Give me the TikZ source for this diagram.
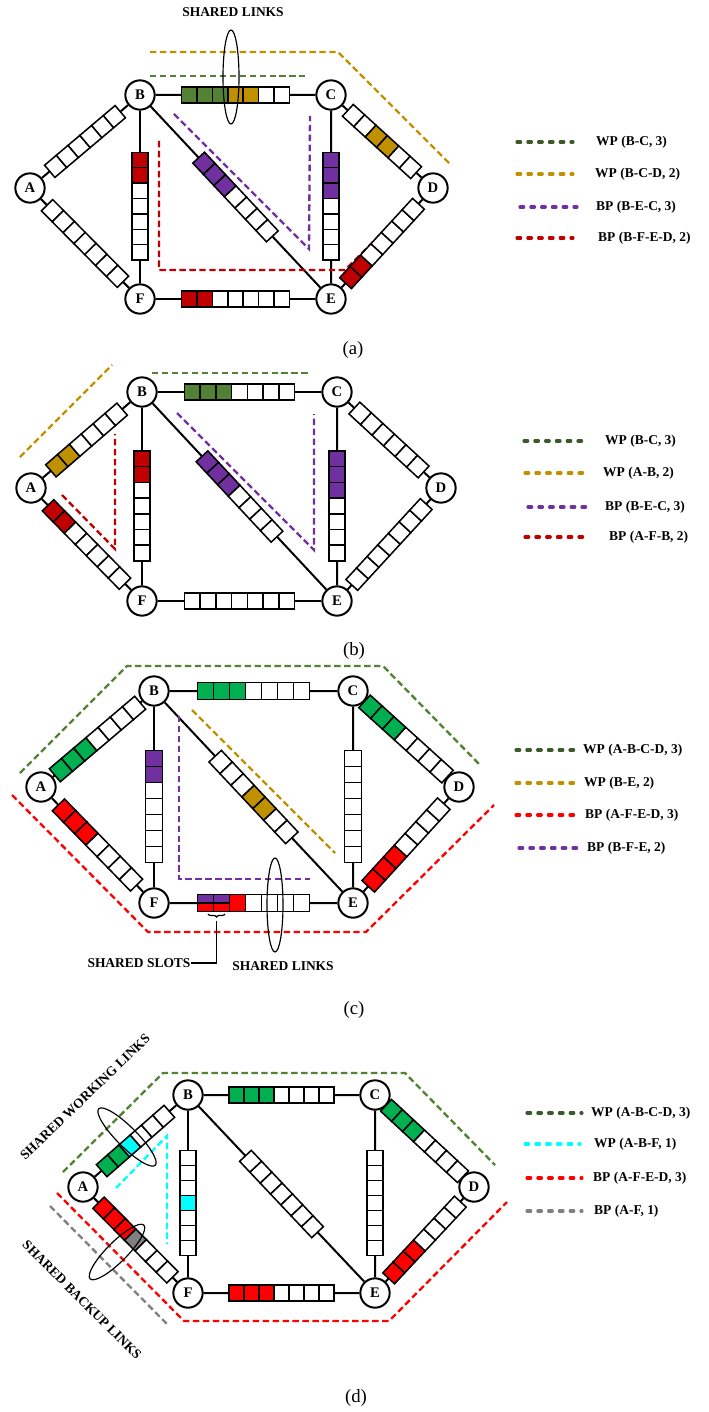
\documentclass[tikz,border=0pt]{standalone}
\usepackage{fontspec}
\setmainfont{Liberation Serif}
\usetikzlibrary{calc, decorations.pathreplacing}

\definecolor{olivegreen}{HTML}{548235}
\definecolor{legendgreen}{HTML}{3B5A2A}
\definecolor{slotgreen}{HTML}{00B050}
\definecolor{gold}{HTML}{BF9000}
\definecolor{purp}{HTML}{7030A0}
\definecolor{darkred}{HTML}{C00000}
\definecolor{brightred}{HTML}{FF0000}
\definecolor{aqua}{HTML}{00FFFF}
\definecolor{grey}{HTML}{808080}

\tikzset{
  nd/.style={circle, draw, line width=1.7pt, fill=white, minimum size=0.88cm, inner sep=0pt, font=\fontsize{12.5}{12}\selectfont\bfseries},
  link/.style={line width=1.7pt},
  slot/.style={draw, line width=1.3pt},
  pathdash/.style={line width=2pt, dash pattern=on 5.5pt off 3pt},
  lgd/.style={line width=2.6pt, line cap=round, dash pattern=on 3.2pt off 6pt},
  lgdtxt/.style={anchor=west, inner sep=0pt, font=\fontsize{11.5}{12}\selectfont\bfseries},
  note/.style={inner sep=0pt, font=\fontsize{11.5}{12}\selectfont\bfseries},
  caption/.style={inner sep=0pt, font=\fontsize{16}{16}\selectfont}
}

\def\splitname{split}
% row of slots on the link #2--#3, centred at fraction #1
\newcommand\linkbar[4][0.5]{%
  \pgfmathanglebetweenpoints{\pgfpointanchor{#2}{center}}{\pgfpointanchor{#3}{center}}%
  \let\barangle\pgfmathresult
  \foreach \col [count=\i] in {#4} {\xdef\nslots{\i}}%
  \begin{scope}[shift={($(#2)!#1!(#3)$)}, rotate=\barangle]
    \foreach \col [count=\i] in {#4} {
      \edef\tmpcol{\col}
      \ifx\tmpcol\splitname
        \fill[brightred] ({(\i-1-\nslots/2)*\slotw}, {-\sloth/2}) rectangle ++(\slotw, {\sloth/2});
        \fill[purp] ({(\i-1-\nslots/2)*\slotw}, 0) rectangle ++(\slotw, {\sloth/2});
        \draw[slot] ({(\i-1-\nslots/2)*\slotw}, {-\sloth/2}) rectangle ++(\slotw, \sloth);
        \draw[slot] ({(\i-1-\nslots/2)*\slotw}, 0) -- ++(\slotw, 0);
      \else
        \draw[slot, fill=\col] ({(\i-1-\nslots/2)*\slotw}, {-\sloth/2}) rectangle ++(\slotw, \sloth);
      \fi
    }
  \end{scope}}

\begin{document}
\begin{tikzpicture}[x=0.03cm, y=0.03cm]
  \useasboundingbox (0,0) rectangle (709,-1412);

  % ---------------- (a)
  \def\slotw{15.4}\def\sloth{16}
  \node[nd] (aA) at (30,-188) {A};
  \node[nd] (aB) at (140,-95) {B};
  \node[nd] (aC) at (331,-95) {C};
  \node[nd] (aD) at (433,-188) {D};
  \node[nd] (aE) at (331,-299) {E};
  \node[nd] (aF) at (140,-299) {F};
  \draw[link] (aA) -- (aB) -- (aC) -- (aD) -- (aE) -- (aF) -- (aA);
  \draw[link] (aB) -- (aF) (aC) -- (aE) (aB) -- (aE);

  \draw[pathdash, gold] (150,-52) -- (338,-52) -- (449,-163);
  \draw[pathdash, olivegreen] (150,-76) -- (305,-76);
  \draw[pathdash, purp] (174,-114) -- (309,-249) -- (310,-116);
  \draw[pathdash, darkred] (159,-141) -- (159,-270) -- (345,-270) -- (408,-207);

  \linkbar{aA}{aB}{white,white,white,white,white,white}
  \linkbar{aB}{aC}{olivegreen,olivegreen,olivegreen,gold,gold,white,white}
  \linkbar{aC}{aD}{white,white,gold,gold,white,white}
  \linkbar{aE}{aD}{darkred,darkred,white,white,white,white,white}
  \linkbar{aA}{aF}{white,white,white,white,white,white,white}
  \linkbar[0.545]{aB}{aF}{darkred,darkred,white,white,white,white,white}
  \linkbar[0.545]{aC}{aE}{purp,purp,purp,white,white,white,white}
  \linkbar{aB}{aE}{purp,purp,purp,white,white,white,white}
  \linkbar{aF}{aE}{darkred,darkred,white,white,white,white,white}

  \draw[line width=1pt] (231,-77) ellipse [x radius=8, y radius=47];
  \node[note] (aShared) at (233,-12) {SHARED LINKS};

  \draw[lgd, legendgreen] (517,-142) -- (573,-142);
  \node[lgdtxt] (aL1) at (596,-142) {WP (B-C, 3)};
  \draw[lgd, gold] (517,-174) -- (573,-174);
  \node[lgdtxt] (aL2) at (595,-174) {WP (B-C-D, 2)};
  \draw[lgd, purp] (520,-207) -- (577,-207);
  \node[lgdtxt] (aL3) at (596,-207) {BP (B-E-C, 3)};
  \draw[lgd, darkred] (517,-238) -- (573,-238);
  \node[lgdtxt] (aL4) at (598,-238) {BP (B-F-E-D, 2)};
  \node[caption] (aCap) at (353,-350) {(a)};

  % ---------------- (b)
  \def\slotw{15.7}\def\sloth{16}
  \node[nd] (bA) at (31,-488) {A};
  \node[nd] (bB) at (142,-392) {B};
  \node[nd] (bC) at (337,-392) {C};
  \node[nd] (bD) at (441,-488) {D};
  \node[nd] (bE) at (337,-601) {E};
  \node[nd] (bF) at (142,-601) {F};
  \draw[link] (bA) -- (bB) -- (bC) -- (bD) -- (bE) -- (bF) -- (bA);
  \draw[link] (bB) -- (bF) (bC) -- (bE) (bB) -- (bE);

  \draw[pathdash, olivegreen] (152,-373) -- (310,-373);
  \draw[pathdash, gold] (20,-457) -- (112,-365);
  \draw[pathdash, darkred] (62,-495) -- (115,-549) -- (115,-434);
  \draw[pathdash, purp] (177,-413) -- (314,-550) -- (314,-414);

  \linkbar{bA}{bB}{gold,gold,white,white,white,white}
  \linkbar{bB}{bC}{olivegreen,olivegreen,olivegreen,white,white,white,white}
  \linkbar{bC}{bD}{white,white,white,white,white,white}
  \linkbar{bE}{bD}{white,white,white,white,white,white,white}
  \linkbar{bA}{bF}{darkred,darkred,white,white,white,white,white}
  \linkbar[0.545]{bB}{bF}{darkred,darkred,white,white,white,white,white}
  \linkbar[0.545]{bC}{bE}{purp,purp,purp,white,white,white,white}
  \linkbar{bB}{bE}{purp,purp,purp,white,white,white,white}
  \linkbar{bF}{bE}{white,white,white,white,white,white,white}

  \draw[lgd, legendgreen] (524,-441) -- (583,-441);
  \node[lgdtxt] (bL1) at (605,-441) {WP (B-C, 3)};
  \draw[lgd, gold] (525,-473) -- (583,-473);
  \node[lgdtxt] (bL2) at (603,-473) {WP (A-B, 2)};
  \draw[lgd, purp] (528,-507) -- (587,-507);
  \node[lgdtxt] (bL3) at (605,-507) {BP (B-E-C, 3)};
  \draw[lgd, darkred] (525,-537) -- (583,-537);
  \node[lgdtxt] (bL4) at (609,-537) {BP (A-F-B, 2)};
  \node[caption] (bCap) at (354,-651) {(b)};

  % ---------------- (c)
  \def\slotw{16}\def\sloth{17}
  \node[nd] (cA) at (41,-787) {A};
  \node[nd] (cB) at (154,-691) {B};
  \node[nd] (cC) at (353,-691) {C};
  \node[nd] (cD) at (459,-787) {D};
  \node[nd] (cE) at (353,-903) {E};
  \node[nd] (cF) at (154,-903) {F};
  \draw[link] (cA) -- (cB) -- (cC) -- (cD) -- (cE) -- (cF) -- (cA);
  \draw[link] (cB) -- (cF) (cC) -- (cE) (cB) -- (cE);

  \draw[pathdash, olivegreen] (20,-773) -- (127,-666) -- (383,-666) -- (481,-766);
  \draw[pathdash, brightred] (12,-795) -- (148,-932) -- (366,-932) -- (494,-805);
  \draw[pathdash, gold] (192,-710) -- (335,-853);
  \draw[pathdash, purp] (179,-716) -- (179,-879) -- (310,-879);

  \linkbar{cA}{cB}{slotgreen,slotgreen,slotgreen,white,white,white,white}
  \linkbar{cB}{cC}{slotgreen,slotgreen,slotgreen,white,white,white,white}
  \linkbar{cC}{cD}{slotgreen,slotgreen,slotgreen,white,white,white,white}
  \linkbar{cE}{cD}{brightred,brightred,brightred,white,white,white,white}
  \linkbar{cA}{cF}{brightred,brightred,brightred,white,white,white,white}
  \linkbar[0.545]{cB}{cF}{purp,purp,white,white,white,white,white}
  \linkbar[0.545]{cC}{cE}{white,white,white,white,white,white,white}
  \linkbar{cB}{cE}{white,white,white,gold,gold,white,white}
  \linkbar{cF}{cE}{split,split,brightred,white,white,white,white}

  \draw[line width=1pt] (275,-905) ellipse [x radius=8, y radius=47];
  \draw[line width=1pt, decorate, decoration={brace, mirror, amplitude=2.5pt}] (208,-914) -- (225,-914);
  \coordinate (cBrace) at (216.5,-921);
  \node[note] (cSlots) at (139,-963) {SHARED SLOTS};
  \draw[line width=1pt] (cBrace) |- (cSlots.east);
  \node[note] (cShared) at (283,-966) {SHARED LINKS};

  \draw[lgd, legendgreen] (516,-750) -- (575,-750);
  \node[lgdtxt] (cL1) at (583,-750) {WP (A-B-C-D, 3)};
  \draw[lgd, gold] (516,-783) -- (575,-783);
  \node[lgdtxt] (cL2) at (584,-783) {WP (B-E, 2)};
  \draw[lgd, brightred] (516,-815) -- (575,-815);
  \node[lgdtxt] (cL3) at (585,-815) {BP (A-F-E-D, 3)};
  \draw[lgd, purp] (519,-848) -- (579,-848);
  \node[lgdtxt] (cL4) at (587,-848) {BP (B-F-E, 2)};
  \node[caption] (cCap) at (354,-1010) {(c)};

  % ---------------- (d)
  \def\slotw{15}\def\sloth{16}
  \node[nd] (dA) at (83,-1187) {A};
  \node[nd] (dB) at (188,-1095) {B};
  \node[nd] (dC) at (375,-1095) {C};
  \node[nd] (dD) at (474,-1187) {D};
  \node[nd] (dE) at (375,-1293) {E};
  \node[nd] (dF) at (188,-1293) {F};
  \draw[link] (dA) -- (dB) -- (dC) -- (dD) -- (dE) -- (dF) -- (dA);
  \draw[link] (dB) -- (dF) (dC) -- (dE) (dB) -- (dE);

  \draw[pathdash, olivegreen] (63,-1172) -- (163,-1073) -- (405,-1073) -- (495,-1165);
  \draw[pathdash, aqua] (116,-1188) -- (167,-1136) -- (167,-1244);
  \draw[pathdash, brightred] (57,-1193) -- (184,-1321) -- (389,-1321) -- (507,-1202);
  \draw[pathdash, grey] (50,-1206) -- (169,-1326);

  \linkbar{dA}{dB}{slotgreen,slotgreen,aqua,white,white,white}
  \linkbar{dB}{dC}{slotgreen,slotgreen,slotgreen,white,white,white,white}
  \linkbar{dC}{dD}{slotgreen,slotgreen,slotgreen,white,white,white,white}
  \linkbar{dE}{dD}{brightred,brightred,brightred,white,white,white,white}
  \linkbar{dA}{dF}{brightred,brightred,brightred,grey,white,white,white}
  \linkbar[0.545]{dB}{dF}{white,white,white,aqua,white,white,white}
  \linkbar[0.545]{dC}{dE}{white,white,white,white,white,white,white}
  \linkbar{dB}{dE}{white,white,white,white,white,white,white}
  \linkbar{dF}{dE}{brightred,brightred,brightred,white,white,white,white}

  \begin{scope}[shift={(127,-1137)}, rotate=-45]
    \draw[line width=1pt] (0,0) ellipse [x radius=40, y radius=10];
  \end{scope}
  \begin{scope}[shift={(117,-1252)}, rotate=45]
    \draw[line width=1pt] (0,0) ellipse [x radius=38, y radius=10];
  \end{scope}
  \node[note, rotate=44] (dWork) at (85,-1097) {SHARED WORKING LINKS};
  \node[note, rotate=-45] (dBack) at (82,-1300) {SHARED BACKUP LINKS};

  \draw[lgd, legendgreen] (527,-1113) -- (582,-1113);
  \node[lgdtxt] (dL1) at (591,-1113) {WP (A-B-C-D, 3)};
  \draw[lgd, aqua] (525,-1144) -- (580,-1144);
  \node[lgdtxt] (dL2) at (594,-1144) {WP (A-B-F, 1)};
  \draw[lgd, brightred] (527,-1178) -- (582,-1178);
  \node[lgdtxt] (dL3) at (593,-1178) {BP (A-F-E-D, 3)};
  \draw[lgd, grey] (527,-1211) -- (582,-1211);
  \node[lgdtxt] (dL4) at (594,-1211) {BP (A-F, 1)};
  \node[caption] (dCap) at (356,-1398) {(d)};
\end{tikzpicture}
\end{document}
